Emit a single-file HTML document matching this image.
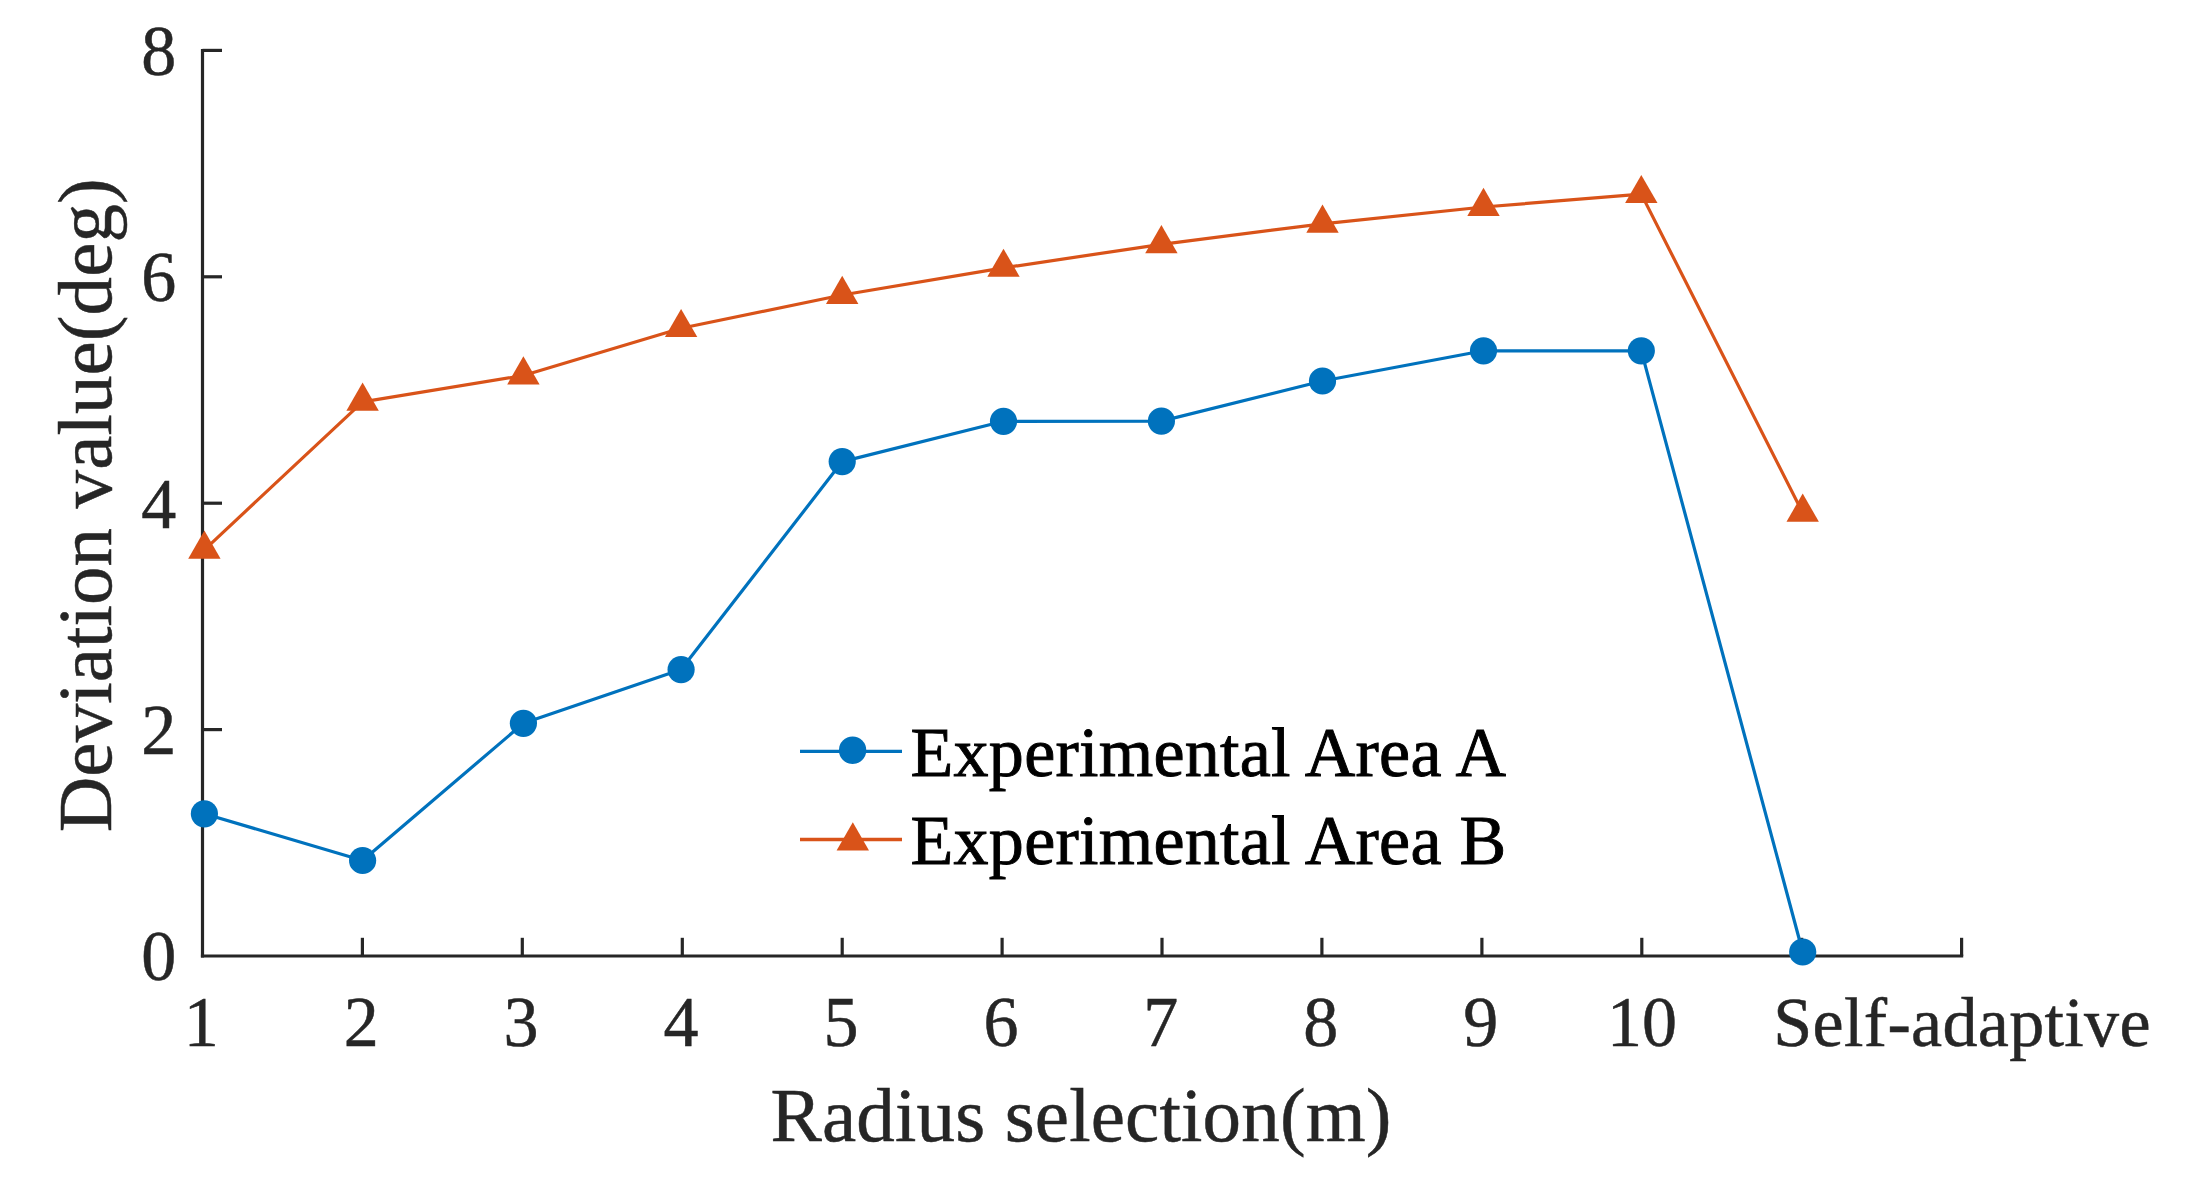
<!DOCTYPE html>
<html lang="en"><head><meta charset="utf-8"><title>Deviation value vs radius selection</title>
<style>
html,body{margin:0;padding:0;background:#fff;}
body{width:2190px;height:1186px;overflow:hidden;}
svg{display:block;font-family:"Liberation Serif","Times New Roman",serif;}
.tick{font-size:70px;fill:#262626;stroke:#262626;stroke-width:0.5px;}
.lab{font-size:77px;fill:#262626;stroke:#262626;stroke-width:0.5px;letter-spacing:0.17px;}
.leg{font-size:70px;fill:#000;stroke:#000;stroke-width:0.9px;letter-spacing:0.26px;}
</style></head><body>
<svg width="2190" height="1186" viewBox="0 0 2190 1186">
<rect width="2190" height="1186" fill="#fff"/>

<g stroke="#262626" stroke-width="3.2" fill="none" stroke-linecap="butt">
<path d="M202.5 48.9V957.6"/>
<path d="M200.9 956.0H1963.2199999999998"/>
<path d="M362.4 956.0v-18.2"/>
<path d="M522.3 956.0v-18.2"/>
<path d="M682.3 956.0v-18.2"/>
<path d="M842.2 956.0v-18.2"/>
<path d="M1002.1 956.0v-18.2"/>
<path d="M1162.0 956.0v-18.2"/>
<path d="M1321.9 956.0v-18.2"/>
<path d="M1481.9 956.0v-18.2"/>
<path d="M1641.8 956.0v-18.2"/>
<path d="M1801.7 956.0v-18.2"/>
<path d="M1961.6 956.0v-18.2"/>
<path d="M202.5 729.6h19.5"/>
<path d="M202.5 503.2h19.5"/>
<path d="M202.5 276.8h19.5"/>
<path d="M202.5 50.4h19.5"/>
</g>
<g class="tick" text-anchor="middle">
<text transform="translate(201.3 1046.2) scale(1 1.04)">1</text>
<text transform="translate(361.2 1046.2) scale(1 1.04)">2</text>
<text transform="translate(521.1 1046.2) scale(1 1.04)">3</text>
<text transform="translate(681.1 1046.2) scale(1 1.04)">4</text>
<text transform="translate(841.0 1046.2) scale(1 1.04)">5</text>
<text transform="translate(1000.9 1046.2) scale(1 1.04)">6</text>
<text transform="translate(1160.8 1046.2) scale(1 1.04)">7</text>
<text transform="translate(1320.7 1046.2) scale(1 1.04)">8</text>
<text transform="translate(1480.7 1046.2) scale(1 1.04)">9</text>
<text transform="translate(1642.1 1046.2) scale(1 1.04)">10</text>
<text x="1962.1" y="1045.6" letter-spacing="0.33">Self-adaptive</text>
</g>
<g class="tick" text-anchor="end">
<text transform="translate(176.3 980.3) scale(1 1.04)">0</text>
<text transform="translate(176.3 753.9) scale(1 1.04)">2</text>
<text transform="translate(176.3 527.5) scale(1 1.04)">4</text>
<text transform="translate(176.3 301.1) scale(1 1.04)">6</text>
<text transform="translate(176.3 74.7) scale(1 1.04)">8</text>
</g>
<text class="lab" text-anchor="middle" x="1081" y="1140.8">Radius selection(m)</text>
<text class="lab" style="letter-spacing:0.1px" text-anchor="middle" transform="translate(110.8 505.3) rotate(-90)">Deviation value(deg)</text>
<polyline points="204.4,549.8 362.6,401.8 523.4,375.5 681.1,328.2 842.2,295.0 1003.5,267.9 1161.4,244.3 1322.5,223.8 1483.5,207.0 1641.3,194.1 1802.7,512.8" fill="none" stroke="#D95319" stroke-width="3.2" stroke-linejoin="round"/>
<g fill="#D95319">
<path d="M204.4 530.6l16.2 28.1h-32.4z"/>
<path d="M362.6 382.6l16.2 28.1h-32.4z"/>
<path d="M523.4 356.3l16.2 28.1h-32.4z"/>
<path d="M681.1 309.0l16.2 28.1h-32.4z"/>
<path d="M842.2 275.8l16.2 28.1h-32.4z"/>
<path d="M1003.5 248.7l16.2 28.1h-32.4z"/>
<path d="M1161.4 225.1l16.2 28.1h-32.4z"/>
<path d="M1322.5 204.6l16.2 28.1h-32.4z"/>
<path d="M1483.5 187.8l16.2 28.1h-32.4z"/>
<path d="M1641.3 174.9l16.2 28.1h-32.4z"/>
<path d="M1802.7 493.6l16.2 28.1h-32.4z"/>
</g>
<polyline points="204.4,813.8 362.6,860.5 523.4,723.3 681.1,669.6 842.2,461.6 1003.5,421.3 1161.4,421.1 1322.5,381.0 1483.5,350.8 1641.3,350.8 1802.7,952.0" fill="none" stroke="#0072BD" stroke-width="3.2" stroke-linejoin="round"/>
<g fill="#0072BD">
<circle cx="204.4" cy="813.8" r="13.6"/>
<circle cx="362.6" cy="860.5" r="13.6"/>
<circle cx="523.4" cy="723.3" r="13.6"/>
<circle cx="681.1" cy="669.6" r="13.6"/>
<circle cx="842.2" cy="461.6" r="13.6"/>
<circle cx="1003.5" cy="421.3" r="13.6"/>
<circle cx="1161.4" cy="421.1" r="13.6"/>
<circle cx="1322.5" cy="381.0" r="13.6"/>
<circle cx="1483.5" cy="350.8" r="13.6"/>
<circle cx="1641.3" cy="350.8" r="13.6"/>
<circle cx="1802.7" cy="952.0" r="13.6"/>
</g>
<path d="M800 751.3H902" stroke="#0072BD" stroke-width="3.3"/><circle cx="852.6" cy="750.2" r="13.7" fill="#0072BD"/>
<path d="M800 839.5H902" stroke="#D95319" stroke-width="3.3"/><path d="M852.8 822.3l16.2 28.1h-32.4z" fill="#D95319"/>
<text class="leg" x="910.6" y="776">Experimental Area A</text>
<text class="leg" x="910.6" y="864">Experimental Area B</text>
</svg></body></html>
